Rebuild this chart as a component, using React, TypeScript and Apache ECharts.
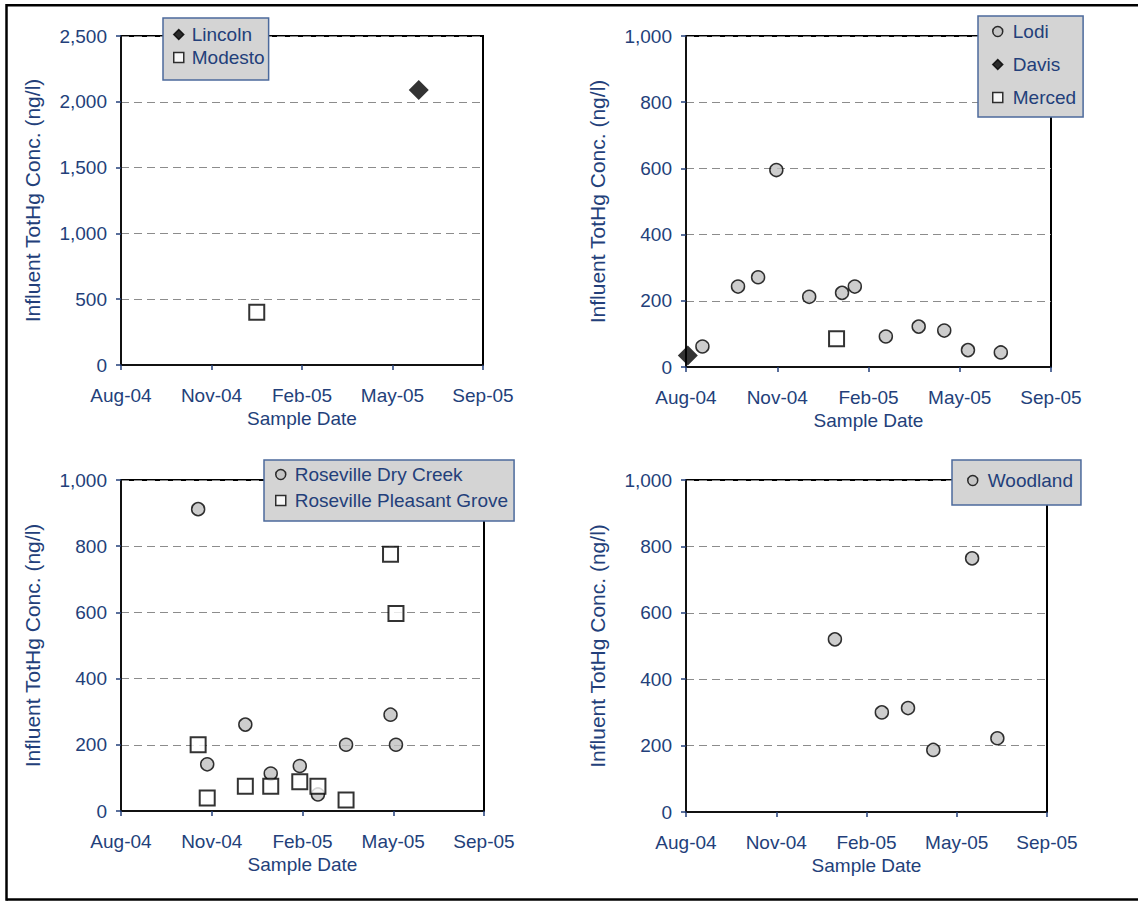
import React, { useEffect, useRef } from "react";
import * as echarts from "echarts";

// Sample dates (ISO) and influent total mercury concentrations (ng/l) per plant
const lincolnDates = ["2005-06-26"];
const lincolnValues = [2090];
const modestoDates = ["2004-12-29"];
const modestoValues = [400];

const lodiDates = [
  "2004-08-19", "2004-09-27", "2004-10-19", "2004-11-08", "2004-12-14", "2005-01-19",
  "2005-02-02", "2005-03-08", "2005-04-13", "2005-05-11", "2005-06-06", "2005-07-12",
];
const lodiValues = [62, 243, 271, 595, 212, 224, 243, 92, 122, 110, 51, 44];
const davisDates = ["2004-08-03"];
const davisValues = [35];
const mercedDates = ["2005-01-13"];
const mercedValues = [85];

const rosevilleDates = [
  "2004-10-25", "2004-11-04", "2004-12-16", "2005-01-13", "2005-02-14",
  "2005-03-06", "2005-04-06", "2005-05-25", "2005-05-31",
];
const dryCreekValues = [912, 141, 261, 113, 136, 50, 200, 291, 200];
const pleasantGroveValues = [200, 39, 75, 75, 88, 75, 33, 776, 597];

const woodlandDates = ["2005-01-13", "2005-03-06", "2005-04-04", "2005-05-02", "2005-06-14", "2005-07-12"];
const woodlandValues = [520, 300, 313, 187, 764, 222];

// Date axis: days counted from 1 Aug 2004, ticks every 100 days
const AXIS_START = Date.UTC(2004, 7, 1);
const DAY_MS = 86400000;
const X_MAX_DAYS = 400;
const X_STEP_DAYS = 100;
const MONTHS = ["Jan", "Feb", "Mar", "Apr", "May", "Jun", "Jul", "Aug", "Sep", "Oct", "Nov", "Dec"];

const toDays = (iso: string) => {
  const [y, m, d] = iso.split("-").map(Number);
  return Math.round((Date.UTC(y, m - 1, d) - AXIS_START) / DAY_MS);
};
const fmtDate = (days: number) => {
  const d = new Date(AXIS_START + days * DAY_MS);
  return MONTHS[d.getUTCMonth()] + "-" + String(d.getUTCFullYear() % 100).padStart(2, "0");
};
const pts = (dates: string[], values: number[]) => dates.map((d, i) => [toDays(d), values[i]]);

const NAVY = "#233f7a";
const FONT = "'Liberation Sans', Arial, sans-serif";

const MARKERS: Record<string, any> = {
  circle: { symbol: "circle", symbolSize: 13, itemStyle: { color: "#c0c0c0", borderColor: "#000", borderWidth: 1.5 } },
  diamond: { symbol: "diamond", symbolSize: 20, itemStyle: { color: "#000", borderColor: "#000", borderWidth: 0 } },
  square: { symbol: "rect", symbolSize: 15, itemStyle: { color: "#fff", borderColor: "#000", borderWidth: 2 } },
};

type Panel = {
  grid: { left: number; top: number; width: number; height: number };
  yMax: number;
  yStep: number;
  series: { name: string; marker: string; data: number[][] }[];
  legend: { left: number; top: number; padding: number[]; itemGap: number; textGap: number };
};

const panels: Panel[] = [
  {
    grid: { left: 121, top: 36, width: 362, height: 329 },
    yMax: 2500,
    yStep: 500,
    series: [
      { name: "Lincoln", marker: "diamond", data: pts(lincolnDates, lincolnValues) },
      { name: "Modesto", marker: "square", data: pts(modestoDates, modestoValues) },
    ],
    legend: { left: 163, top: 18, padding: [7, 4, 13, 10], itemGap: 4, textGap: 3 },
  },
  {
    grid: { left: 686, top: 36, width: 365, height: 331 },
    yMax: 1000,
    yStep: 200,
    series: [
      { name: "Lodi", marker: "circle", data: pts(lodiDates, lodiValues) },
      { name: "Davis", marker: "diamond", data: pts(davisDates, davisValues) },
      { name: "Merced", marker: "square", data: pts(mercedDates, mercedValues) },
    ],
    legend: { left: 978, top: 16, padding: [6, 7, 10, 14], itemGap: 14, textGap: 5 },
  },
  {
    grid: { left: 121, top: 480, width: 363, height: 331 },
    yMax: 1000,
    yStep: 200,
    series: [
      { name: "Roseville Dry Creek", marker: "circle", data: pts(rosevilleDates, dryCreekValues) },
      { name: "Roseville Pleasant Grove", marker: "square", data: pts(rosevilleDates, pleasantGroveValues) },
    ],
    legend: { left: 264, top: 460, padding: [5, 6, 11, 11], itemGap: 7, textGap: 4 },
  },
  {
    grid: { left: 686, top: 480, width: 361, height: 332 },
    yMax: 1000,
    yStep: 200,
    series: [{ name: "Woodland", marker: "circle", data: pts(woodlandDates, woodlandValues) }],
    legend: { left: 952, top: 460, padding: [11, 8, 15, 15], itemGap: 10, textGap: 5 },
  },
];

function buildOption() {
  const grid: any[] = [];
  const xAxis: any[] = [];
  const yAxis: any[] = [];
  const legend: any[] = [];
  const series: any[] = [];

  panels.forEach((p, i) => {
    grid.push({ ...p.grid, show: true, borderColor: "#000", borderWidth: 2, backgroundColor: "#fff" });
    xAxis.push({
      type: "value",
      gridIndex: i,
      min: 0,
      max: X_MAX_DAYS,
      interval: X_STEP_DAYS,
      name: "Sample Date",
      nameLocation: "middle",
      nameGap: 44,
      nameTextStyle: { color: NAVY, fontSize: 19, fontFamily: FONT },
      axisLine: { show: true, lineStyle: { color: "#111", width: 2 } },
      axisTick: { show: true, inside: false, length: 5, lineStyle: { color: NAVY, width: 1.5 } },
      axisLabel: { color: NAVY, fontSize: 19, fontFamily: FONT, margin: 21, formatter: (v: number) => fmtDate(v) },
      splitLine: { show: false },
    });
    yAxis.push({
      type: "value",
      gridIndex: i,
      min: 0,
      max: p.yMax,
      interval: p.yStep,
      name: "Influent TotHg Conc. (ng/l)",
      nameLocation: "middle",
      nameGap: 78,
      nameTextStyle: { color: NAVY, fontSize: 21, fontFamily: FONT },
      axisLine: { show: true, lineStyle: { color: "#111", width: 2 } },
      axisTick: { show: true, inside: false, length: 5, lineStyle: { color: NAVY, width: 1.5 } },
      axisLabel: {
        color: NAVY,
        fontSize: 19,
        fontFamily: FONT,
        margin: 14,
        formatter: (v: number) => v.toLocaleString("en-US"),
      },
      splitLine: { show: true, lineStyle: { color: "#8c8c8c", width: 1.2, type: [8, 5] } },
    });
    legend.push({
      orient: "vertical",
      align: "left",
      left: p.legend.left,
      top: p.legend.top,
      padding: p.legend.padding,
      itemGap: p.legend.itemGap,
      itemWidth: 10,
      itemHeight: 10,
      itemStyle: { borderWidth: 1.5 },
      backgroundColor: "#d4d4d4",
      borderColor: "#4c6a9c",
      borderWidth: 1.5,
      selectedMode: false,
      textStyle: { color: NAVY, fontSize: 19, fontFamily: FONT, padding: [0, 0, 0, p.legend.textGap] },
      data: p.series.map((s) => s.name),
      z: 10,
    });
    p.series.forEach((s) => {
      series.push({
        type: "scatter",
        name: s.name,
        xAxisIndex: i,
        yAxisIndex: i,
        data: s.data,
        ...MARKERS[s.marker],
      });
    });
  });

  // page frame: left, top and bottom edges only
  const frameStyle = { stroke: "#000", lineWidth: 2.5 };
  const frame = [
    { x1: 6.5, y1: 5.3, x2: 1138, y2: 5.3 },
    { x1: 6.5, y1: 4, x2: 6.5, y2: 900.8 },
    { x1: 6.5, y1: 899.5, x2: 1138, y2: 899.5 },
  ].map((shape) => ({ type: "line", shape, style: frameStyle, silent: true, z: 100 }));

  return {
    animation: false,
    backgroundColor: "#fff",
    textStyle: { fontFamily: FONT },
    graphic: frame,
    grid,
    xAxis,
    yAxis,
    legend,
    series,
  };
}

export default function App() {
  const ref = useRef<HTMLDivElement>(null);
  useEffect(() => {
    document.body.style.margin = "0";
    if (!ref.current) return;
    const chart = echarts.init(ref.current, undefined, { renderer: "svg" });
    chart.setOption(buildOption() as any);
    return () => chart.dispose();
  }, []);
  return <div ref={ref} style={{ width: 1138, height: 901 }} />;
}
